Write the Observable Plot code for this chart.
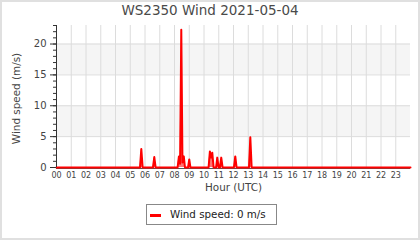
<!DOCTYPE html>
<html>
<head>
<meta charset="utf-8">
<script src="https://cdn.jsdelivr.net/npm/d3@7"></script>
<script src="https://cdn.jsdelivr.net/npm/@observablehq/plot@0.6"></script>
<style>
  html, body { margin: 0; padding: 0; background: #fff; }
  #wrap { position: relative; width: 420px; height: 240px; overflow: hidden; font-family: "DejaVu Sans", sans-serif; }
  #plot { position: absolute; left: 0; top: 0; }
  #title { position: absolute; left: 0; top: 4px; width: 420px; text-align: center; font-size: 13.5px; line-height: 13.5px; color: #4a4a4a; }
  #legend { position: absolute; left: 146px; top: 204px; width: 131px; height: 21px; box-sizing: border-box; border: 1px solid #888; background: #fff; }
  #swatch { position: absolute; left: 3px; top: 9px; width: 11px; height: 3px; background: red; }
  #ltext { position: absolute; left: 23px; top: 3px; font-size: 10.3px; line-height: 12px; color: #222; white-space: nowrap; }
  #frame { position: absolute; left: 0; top: 0; width: 420px; height: 240px; box-sizing: border-box; border: 2px solid #e0e0e0; pointer-events: none; }
</style>
</head>
<body>
<div id="wrap">
  <div id="plot"></div>
  <div id="title"></div>
  <div id="legend"><div id="swatch"></div><div id="ltext"></div></div>
  <div id="frame"></div>
</div>
<script>
// ---- data ----
const titleText = "WS2350 Wind 2021-05-04";
const yLabel = "Wind speed (m/s)";
const xLabel = "Hour (UTC)";
const legendLabel = "Wind speed: 0 m/s";

const hourLabels = ["00","01","02","03","04","05","06","07","08","09","10","11",
                    "12","13","14","15","16","17","18","19","20","21","22","23"];
const hourTicks = [0,1,2,3,4,5,6,7,8,9,10,11,12,13,14,15,16,17,18,19,20,21,22,23];
const yMajorTicks = [0, 5, 10, 15, 20];
const yMinorTicks = [0,1,2,3,4,5,6,7,8,9,10,11,12,13,14,15,16,17,18,19,20,21,22,23];
const bandLow = [5, 15];
const bandHigh = [10, 20];

// time (decimal hours, UTC) and wind speed (m/s)
const hours = [0, 5.66, 5.75, 5.84, 6.54, 6.63, 6.72,
  8.21, 8.30, 8.38, 8.46, 8.54, 8.63, 8.71, 8.92, 9.00, 9.08,
  10.31, 10.40, 10.48, 10.56, 10.65, 10.82, 10.90, 10.99, 11.08, 11.17, 11.26,
  12.03, 12.12, 12.21, 13.05, 13.14, 13.23, 24];
const speeds = [0, 0, 3.0, 0, 0, 1.7, 0,
  0, 1.8, 0.6, 22.3, 0.8, 1.8, 0, 0, 1.3, 0,
  0, 2.6, 1.6, 2.4, 0, 0, 1.6, 0, 0, 1.6, 0,
  0, 1.8, 0, 0, 4.9, 0, 0];

const data = hours.map((h, i) => ({hour: h, speed: speeds[i]}));
const bands = bandLow.map((lo, i) => ({lo, hi: bandHigh[i]}));
const xDomain = [0, 24];
const yDomain = [0, 23];

document.getElementById("title").textContent = titleText;
document.getElementById("ltext").textContent = legendLabel;

const chart = Plot.plot({
  width: 420,
  height: 200,
  marginTop: 25,
  marginBottom: 33,
  marginLeft: 56,
  marginRight: 10,
  style: {fontFamily: "DejaVu Sans, sans-serif", color: "#444", background: "transparent", overflow: "visible"},
  x: {domain: xDomain, axis: null},
  y: {domain: yDomain, axis: null},
  marks: [
    Plot.rect(bands, {x1: () => xDomain[0], x2: () => xDomain[1], y1: "lo", y2: "hi", fill: "#f5f5f5"}),
    Plot.gridX(hourTicks.slice(1), {stroke: "#dcdcdc", strokeOpacity: 1}),
    Plot.gridY(yMajorTicks.slice(1), {stroke: "#dcdcdc", strokeOpacity: 1}),
    Plot.ruleY([0], {stroke: "#555", dy: 1}),
    Plot.areaY(data, {x: "hour", y: "speed", fill: "red", fillOpacity: 0.55}),
    Plot.lineY(data, {x: "hour", y: "speed", stroke: "red", strokeWidth: 2}),
    Plot.ruleX([0], {stroke: "#333"}),
    Plot.axisY(yMinorTicks, {tickSize: 3, tickFormat: () => "", label: null, stroke: "#333"}),
    Plot.axisY(yMajorTicks, {tickSize: 6, tickPadding: 4, fontSize: 10, label: null, stroke: "#333", fill: "#444"}),
    Plot.axisX(hourTicks, {tickSize: 0, tickPadding: 5, fontSize: 8, label: null, fill: "#444",
      tickFormat: (d) => hourLabels[hourTicks.indexOf(d)]}),
    Plot.text([yLabel], {frameAnchor: "left", textAnchor: "middle", lineAnchor: "middle", dx: -40, dy: 2, rotate: -90, fontSize: 10.4, fill: "#444"}),
    Plot.text([xLabel], {frameAnchor: "bottom", textAnchor: "middle", lineAnchor: "middle", dy: 20, fontSize: 10.4, fill: "#444"})
  ]
});
document.getElementById("plot").appendChild(chart);
</script>
</body>
</html>
